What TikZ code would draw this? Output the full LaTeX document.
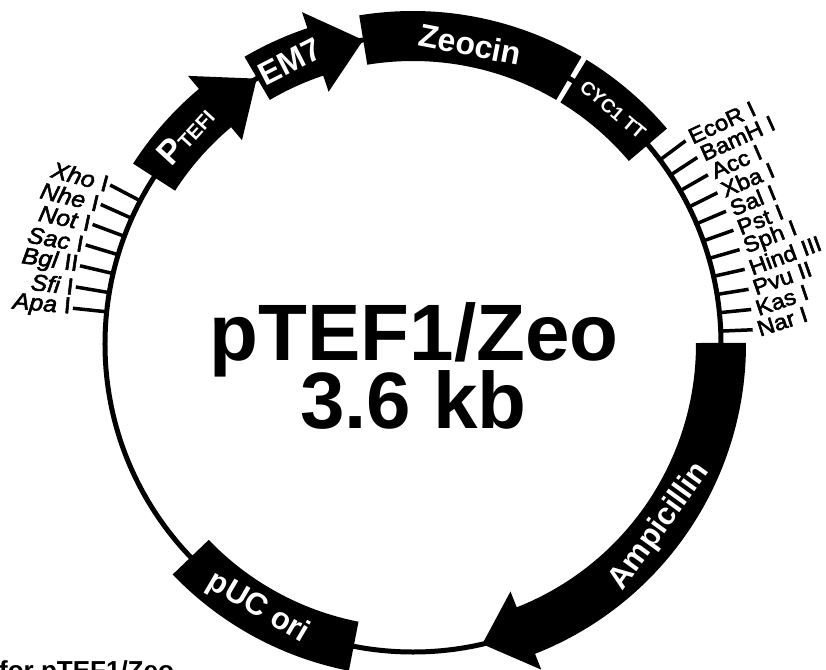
\documentclass[tikz,border=0pt]{standalone}
\usepackage{fontspec}
\setmainfont{Liberation Sans}
\newfontfamily\sitefont[FakeBold=2.5,FakeStretch=1.08]{Liberation Sans}
\newcommand\FeatArrow[3]{\fill (#1:333) arc[start angle=#1, end angle=#2, radius=333] -- (#2:350) -- (#3:308) -- (#2:266) -- (#2:283) arc[start angle=#2, end angle=#1, radius=283] -- cycle;}
\newcommand\FeatBox[2]{\fill (#1:333) arc[start angle=#1, end angle=#2, radius=333] -- (#2:283) arc[start angle=#2, end angle=#1, radius=283] -- cycle;}
\begin{document}
\begin{tikzpicture}[x=1pt,y=1pt]
\useasboundingbox (-413,-325) rectangle (413,344);
\tikzset{
  ring/.style={line width=5pt},
  sitetick/.style={line width=3.5pt},
  flabel/.style={text=white, font=\bfseries\fontsize{31}{31}\selectfont, inner sep=0pt},
  rsite/.style={anchor=west, font=\sitefont\fontsize{22}{22}\selectfont, inner sep=0pt},
  lsite/.style={anchor=east, font=\sitefont\fontsize{23}{23}\selectfont, inner sep=0pt},
  bigtitle/.style={font=\bfseries\fontsize{80}{80}\selectfont, anchor=base, inner sep=0pt}
}
% backbone
\draw[ring] (0,0) circle[radius=308];
% restriction sites, right
\foreach \a/\n/\rot [count=\i] in {36.7/EcoR I/25, 33.27/BamH I/24.3, 29.84/Acc I/23.6, 26.41/Xba I/22.9, 22.98/Sal I/22.2, 19.55/Pst I/21.5, 16.12/Sph I/20.8, 12.69/Hind III/20.1, 9.26/Pvu II/19.4, 5.83/Kas I/18.7, 2.4/Nar I/18}{
  \draw[sitetick] (\a:306) -- (\a:340);
  \node[rsite, rotate=\rot] (r\i) at (\a:345) {\n};
}
% restriction sites, left
\foreach \a/\n/\m/\rot [count=\i] in {152.3/Xho/I/-15, 155.92/Nhe/I/-13.3, 159.54/Not/I/-11.7, 163.16/Sac/I/-10, 166.78/Bgl/II/-8.3, 170.4/Sfi/I/-6.7, 174.0/Apa/I/-5}{
  \draw[sitetick] (\a:306) -- (\a:342);
  \node[lsite, rotate=\rot] (l\i) at (\a:344) {{\itshape\n} \m};
}
% features
\FeatArrow{147.2}{130}{120.5}
\FeatArrow{120.4}{108.5}{99.3}
\FeatBox{99.3}{59.6}
\FeatBox{58.6}{40.3}
\FeatArrow{0.2}{-68.5}{-77}
\FeatBox{223.8}{258.9}
% feature labels
\node[flabel, rotate=47.5, font=\bfseries\fontsize{34}{34}\selectfont] (ptef) at (137.5:309) {P{\fontsize{20}{20}\selectfont TEFI}};
\node[flabel, rotate=27, font=\bfseries\fontsize{32}{32}\selectfont] (em7) at (113.6:308) {EM7};
\node[flabel, rotate=-11, font=\bfseries\fontsize{32}{32}\selectfont] (zeo) at (79.2:305) {Zeocin};
\node[flabel, rotate=-40.5, font=\bfseries\fontsize{19}{19}\selectfont] (cyc) at (49.5:308) {CYC1 TT};
\node[flabel, rotate=54] (amp) at (-36.5:307) {Ampicillin};
\node[flabel, rotate=-30.4] (puc) at (239.6:306) {pUC ori};
% title
\node[bigtitle] (t1) at (1,-16) {pTEF1/Zeo};
\node[bigtitle] (t2) at (0.5,-84) {3.6 kb};
% clipped caption
\node[font=\bfseries\fontsize{26}{26}\selectfont, anchor=base west, inner sep=0pt] (cap) at (-414,-335) {for pTEF1/Zeo};
\end{tikzpicture}
\end{document}
